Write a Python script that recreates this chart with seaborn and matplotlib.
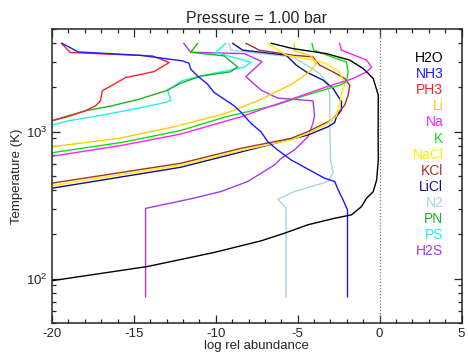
import numpy as np
import pandas as pd
import seaborn as sns
import matplotlib
matplotlib.use("Agg")
import matplotlib.pyplot as plt
from matplotlib.ticker import MultipleLocator, LogLocator, NullFormatter

# ---------------- data (log rel abundance vs temperature) ----------------
species = ["H2O", "NH3", "PH3", "Li", "Na", "K", "NaCl", "KCl", "LiCl", "N2", "PN", "PS", "H2S"]

H2O_x = [-6.63, -5.30, -3.25, -1.82, -1.00, -0.39, -0.08, -0.09, -0.08, -0.18, -0.39,
         -0.80, -1.10, -1.72, -2.74, -4.37, -5.81, -7.24, -10.10, -14.19, -20.0, -22.0]
H2O_T = [4000, 3680, 3400, 3070, 2690, 2304, 1774, 1027, 643, 470, 391,
         353, 310, 272, 258, 233, 204, 181, 151, 121, 97, 93]

NH3_x = [-19.40, -18.39, -14.60, -12.02, -11.64, -11.53, -11.12, -10.51, -10.10, -9.49, -8.88, -8.47,
         -7.85, -7.24, -6.83, -6.22, -5.40, -3.36, -2.74, -2.53, -2.23, -1.96, -1.96]
NH3_T = [4000, 3490, 3310, 3033, 2925, 2665, 2400, 2110, 1850, 1667, 1502, 1361,
         1140, 1000, 855, 752, 643, 483, 459, 402, 344, 294, 75]

PH3_x = [-19.43, -18.88, -13.87, -12.84, -13.76, -14.48, -15.50, -16.21, -16.93, -17.04, -17.34,
         -17.96, -18.98, -20.0, -22.0]
PH3_T = [4000, 3460, 3280, 2960, 2570, 2466, 2340, 2107, 1900, 1622, 1502,
         1389, 1272, 1188, 1030]

Li_x = [-5.20, -5.20, -4.17, -3.87, -4.28, -5.30, -6.32, -7.34, -9.39, -12.56,
        -15.91, -20.0, -22.0]
Li_T = [4000, 3550, 3270, 2910, 2553, 2130, 1870, 1641, 1333, 1081,
        902, 791, 740]

Na_x = [-2.44, -2.33, -0.80, -0.49, -0.80, -1.61, -3.25, -4.68, -6.73, -8.47, -12.15, -15.71,
        -20.0, -22.0]
Na_T = [4000, 3590, 3070, 2760, 2553, 2304, 2020, 1774, 1479, 1264, 964, 809,
        681, 630]

K_x = [-4.13, -4.03, -2.64, -2.03, -1.92, -2.03, -2.44, -4.48, -6.32, -9.39, -12.15, -15.71,
       -20.0, -22.0]
K_T = [4000, 3590, 3150, 2985, 2553, 2184, 2074, 1774, 1518, 1264, 1019, 847,
       720, 670]

NaCl_x = [-6.83, -5.71, -4.07, -3.25, -2.44, -2.13, -2.33, -2.42, -2.64, -3.25, -4.37, -5.40,
          -8.47, -12.15, -20.0, -22.0]
NaCl_T = [4000, 3320, 3070, 2910, 2553, 2074, 1824, 1600, 1279, 1128, 975, 881,
          745, 593, 430, 395]

KCl_x = [-8.16, -7.34, -5.30, -4.07, -3.66, -2.84, -2.13, -1.82, -1.92, -2.13, -2.64, -2.94,
         -4.37, -5.40, -8.47, -12.15, -20.0, -22.0]
KCl_T = [4000, 3590, 3317, 3230, 2840, 2553, 2304, 2074, 1774, 1518, 1298, 1200,
         1003, 902, 771, 610, 447, 405]

LiCl_x = [-8.98, -8.36, -5.71, -5.09, -4.48, -3.45, -2.84, -2.33, -2.33, -2.64, -2.74, -3.15,
          -4.37, -6.01, -8.47, -12.15, -20.0, -22.0]
LiCl_T = [4000, 3590, 3320, 2840, 2553, 2245, 1973, 1600, 1404, 1264, 1155, 1081,
          950, 855, 728, 573, 413, 385]

N2_x = [-9.18, -9.08, -7.34, -5.30, -4.48, -3.66, -3.25, -3.04, -3.04, -2.99, -2.84, -3.15,
        -5.20, -6.21, -5.71, -5.71]
N2_T = [4000, 3590, 3400, 3230, 2840, 2490, 2184, 1774, 1027, 643, 525, 458,
        392, 348, 302, 75]

PN_x = [-11.10, -11.53, -9.49, -8.67, -9.08, -10.92, -12.15, -13.05, -14.68, -16.32, -17.96,
        -20.0, -22.0]
PN_T = [4000, 3475, 3280, 2760, 2560, 2390, 2140, 1897, 1667, 1502, 1389,
        1191, 1050]

PS_x = [-9.39, -10.0, -7.85, -8.26, -11.12, -12.09, -12.94, -12.74, -13.05, -14.79, -16.93,
        -18.98, -20.0, -22.0]
PS_T = [4000, 3460, 2975, 2750, 2370, 2220, 1897, 1641, 1585, 1442, 1298,
        1188, 1110, 990]

H2S_x = [-11.96, -11.53, -8.26, -7.18, -8.16, -7.24, -6.21, -4.99, -4.07, -3.97, -4.07, -4.37,
         -5.20, -6.01, -6.42, -8.06, -9.69, -11.41, -14.29, -14.29]
H2S_T = [4000, 3475, 3400, 3000, 2370, 1920, 1693, 1655, 1622, 1298, 1140, 925,
         752, 659, 594, 458, 392, 352, 301, 75]

series = {
    "H2O": (H2O_x, H2O_T), "NH3": (NH3_x, NH3_T), "PH3": (PH3_x, PH3_T),
    "Li": (Li_x, Li_T), "Na": (Na_x, Na_T), "K": (K_x, K_T),
    "NaCl": (NaCl_x, NaCl_T), "KCl": (KCl_x, KCl_T), "LiCl": (LiCl_x, LiCl_T),
    "N2": (N2_x, N2_T), "PN": (PN_x, PN_T), "PS": (PS_x, PS_T), "H2S": (H2S_x, H2S_T),
}

colors = {
    "H2O": "#000000", "NH3": "#1a1aff", "PH3": "#ff2020", "Li": "#ffcc00",
    "Na": "#ff20ff", "K": "#10e010", "NaCl": "#ffee00", "KCl": "#a8302a",
    "LiCl": "#10108a", "N2": "#a8d4e4", "PN": "#20b020", "PS": "#20f0f0",
    "H2S": "#a838f0",
}

# ---------------- plot ----------------
sns.set_style("ticks")
plt.rcParams["font.family"] = ["Liberation Sans", "DejaVu Sans"]
plt.rcParams["mathtext.default"] = "regular"
plt.rcParams["axes.unicode_minus"] = False

fig = plt.figure(figsize=(4.68, 3.53), dpi=100)
ax = fig.add_axes([52 / 468, 30 / 353, 409.5 / 468, 294 / 353])

draw_order = ["H2S", "PS", "PN", "N2", "LiCl", "KCl", "NaCl", "K", "Na", "Li", "PH3", "NH3", "H2O"]
for name in draw_order:
    xs, ts = series[name]
    df = pd.DataFrame({"x": xs, "T": ts})
    sns.lineplot(data=df, x="x", y="T", sort=False, estimator=None, ax=ax,
                 color=colors[name], lw=1.0)

ax.axvline(0, color="#777777", ls=(0, (1, 1.5)), lw=0.9)

ax.set_yscale("log")
ax.set_xlim(-20, 5)
ax.set_ylim(50, 5000)
ax.xaxis.set_major_locator(MultipleLocator(5))
ax.xaxis.set_minor_locator(MultipleLocator(1))
ax.yaxis.set_major_locator(LogLocator(base=10))
ax.yaxis.set_minor_locator(LogLocator(base=10, subs=np.arange(2, 10)))
ax.yaxis.set_minor_formatter(NullFormatter())

ax.tick_params(which="both", direction="in", top=True, right=True, labelsize=9.5, width=0.9)
ax.tick_params(which="major", length=6)
ax.tick_params(which="minor", length=3)
for s in ax.spines.values():
    s.set_linewidth(1.1)

ax.set_xlabel("log rel abundance", fontsize=9.5, labelpad=0)
ax.set_ylabel("Temperature (K)", fontsize=9.5, labelpad=2)
ax.set_title("Pressure = 1.00 bar", fontsize=11.5, pad=4)

for i, name in enumerate(species):
    ax.text(0.9556, 0.900 - i * 0.0545, name, transform=ax.transAxes, ha="right", va="center",
            fontsize=10, color=colors[name])

fig.savefig("out.png", dpi=100)
